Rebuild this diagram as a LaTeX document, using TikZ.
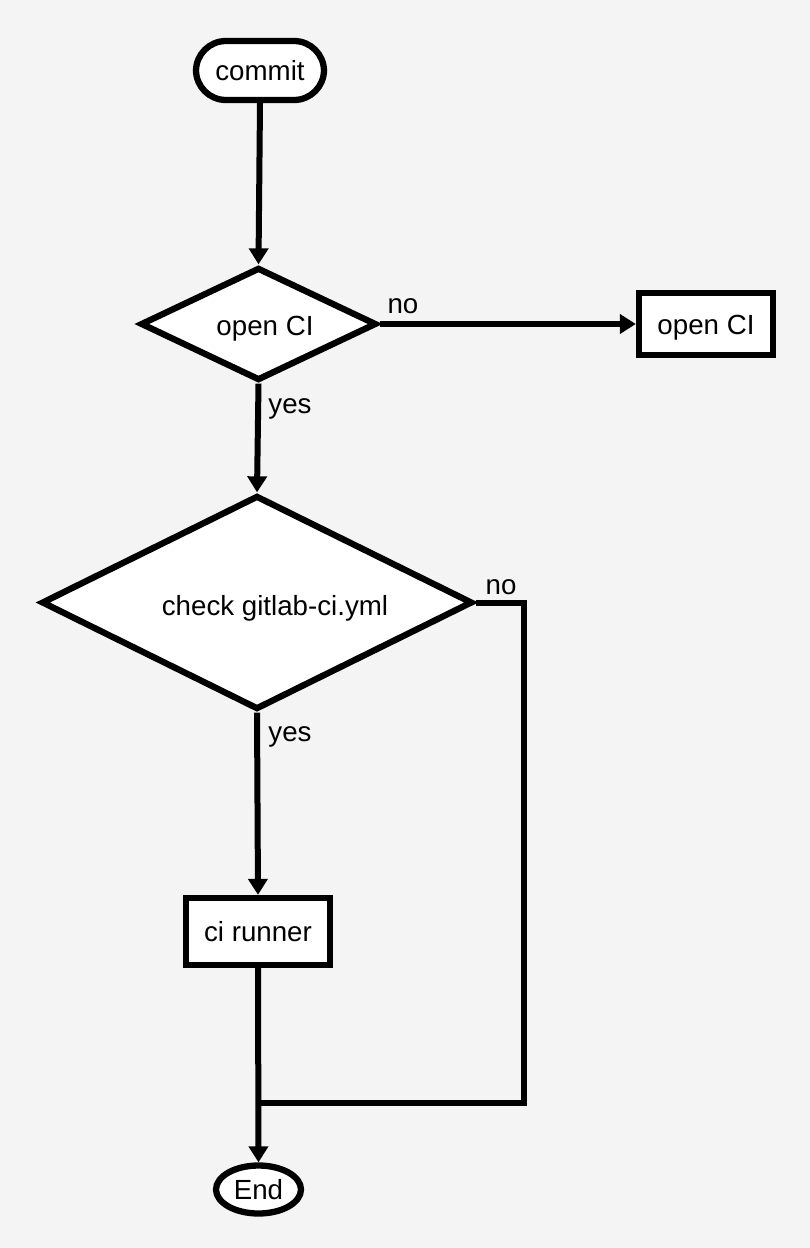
\documentclass[tikz,border=0pt]{standalone}
\usepackage{fontspec}
\setmainfont{Liberation Sans}
\usetikzlibrary{shapes.geometric,arrows.meta}
\definecolor{bg}{HTML}{F4F4F4}
\begin{document}
\begin{tikzpicture}[x=1pt,y=-1pt,
  every node/.style={font=\fontsize{27.7}{32}\selectfont, inner sep=0pt, text height=21pt, text depth=1pt},
  outl/.style={draw=black, line width=6.3pt, fill=white},
  term/.style={outl, rectangle, rounded corners=30pt, minimum width=128pt, minimum height=59pt},
  proc/.style={outl, rectangle, minimum width=#1, minimum height=65pt},
  dec/.style={outl, diamond},
  conn/.style={line width=6pt, -{Triangle[length=16pt,width=19pt]}},
  line/.style={line width=6pt},
  lbl/.style={}
]
\fill[bg] (0,0) rectangle (810,1248);
\useasboundingbox (0,0) rectangle (810,1248);

\node[term] (commit) at (260,70.5) {commit};
\node[dec, minimum width=236pt, minimum height=113pt] (d1) at (258.5,324) {};
\node (d1t) at (265,325) {open CI};
\node[proc=134pt, minimum height=62pt] (open) at (706,324) {open CI};
\node[dec, minimum width=431pt, minimum height=214pt] (d2) at (257,602.5) {};
\node (d2t) at (275,605) {check gitlab-ci.yml};
\node[proc=144pt, minimum height=67pt] (ci) at (258,931.5) {ci runner};
\node[outl, ellipse, minimum width=85pt, minimum height=48pt] (end) at (258.5,1189.5) {End};

\coordinate (r1) at (524,602.5);
\coordinate (r2) at (524,1103);
\coordinate (j) at (258.5,1103);

\draw[conn] (commit.south) -- (d1.north);
\draw[conn] (d1.east) -- (open.west);
\draw[conn] (d1.south) -- (d2.north);
\draw[conn] (d2.south) -- (ci.north);
\draw[conn] (ci.south) -- (end.north);
\draw[line] (d2.east) -- (r1) -- (r2) -- (j);

\node[lbl] (no1) at (403,303) {no};
\node[lbl] (yes1) at (290,403) {yes};
\node[lbl] (no2) at (501,584) {no};
\node[lbl] (yes2) at (290,731) {yes};
\end{tikzpicture}
\end{document}
